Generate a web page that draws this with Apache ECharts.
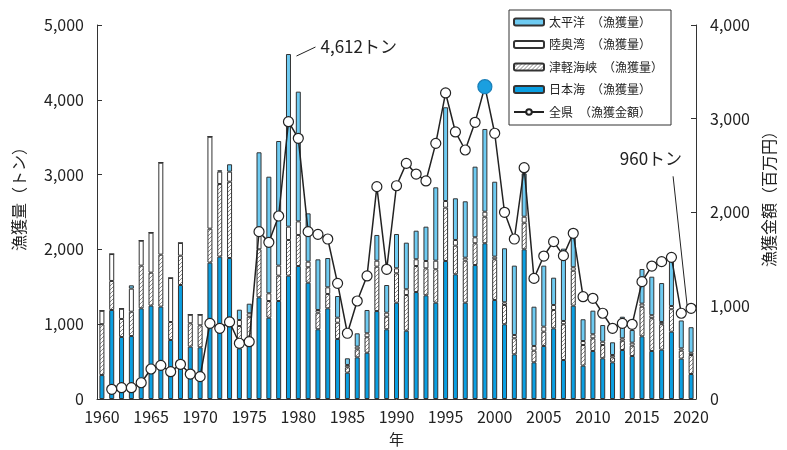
<!DOCTYPE html>
<html>
<head>
<meta charset="utf-8">
<script src="https://cdn.jsdelivr.net/npm/echarts@6/dist/echarts.min.js"></script>
<style>
    html, body { margin: 0; padding: 0; background: #fff; }
    #main { width: 787px; height: 450px; }
</style>
</head>
<body>
<div id="main"></div>
<script>
    // 年
    var years = [];
    for (var y = 1960; y <= 2020; y++) years.push(String(y));

    // 漁獲量（トン）
    var japanSea = [320, 1190, 829, 842, 1212, 1248, 1235, 789, 1524, 700,
        691, 1823, 1903, 1885, 677, 722, 1359, 1087, 1310, 1649,
        1778, 1555, 932, 1212, 802, 352, 557, 619, 1176, 932,
        1288, 913, 1430, 1386, 1288, 1845, 1667, 1288, 1791, 2082,
        1324, 999, 597, 2001, 490, 709, 945, 521, 1248, 446,
        642, 544, 490, 655, 575, 838, 642, 660, 900, 540,
        334];
    var tsugaru = [680, 388, 241, 325, 571, 441, 695, 240, 392, 312,
        294, 454, 971, 1020, 299, 378, 642, 223, 339, 477,
        415, 206, 222, 192, 218, 72, 107, 206, 593, 168,
        392, 477, 348, 361, 446, 713, 383, 561, 291, 355,
        544, 258, 214, 356, 156, 191, 245, 478, 467, 276,
        169, 178, 67, 124, 138, 396, 438, 340, 300, 106,
        254];
    var mutsu = [180, 360, 137, 308, 334, 535, 1230, 589, 170, 115,
        142, 1230, 166, 134, 80, 46, 178, 103, 134, 178,
        182, 75, 36, 89, 67, 31, 36, 53, 80, 54,
        67, 77, 90, 98, 115, 89, 76, 40, 80, 67,
        35, 36, 45, 80, 63, 67, 67, 44, 46, 53,
        54, 44, 31, 32, 40, 41, 40, 30, 43, 31,
        31];
    var pacific = [0, 0, 0, 45, 0, 0, 0, 0, 0, 0,
        0, 0, 17, 99, 138, 128, 1119, 1559, 1666, 2308,
        1734, 646, 677, 392, 290, 89, 178, 312, 344, 370,
        459, 623, 382, 459, 981, 1253, 557, 754, 944, 1106,
        1002, 722, 927, 580, 525, 816, 365, 967, 454, 291,
        316, 223, 170, 289, 169, 463, 515, 520, 615, 373,
        341];

    // 漁獲金額（百万円）
    var amount = ['-', 104, 121, 121, 174, 321, 360, 292, 371, 267,
        239, 809, 756, 824, 596, 613, 1790, 1676, 1957, 2966,
        2788, 1790, 1761, 1711, 1237, 703, 1048, 1316, 2271, 1387,
        2281, 2520, 2406, 2332, 2734, 3273, 2856, 2663, 2959, 3340,
        2842, 1997, 1711, 2474, 1290, 1529, 1683, 1533, 1772, 1094,
        1077, 917, 756, 809, 799, 1255, 1422, 1469, 1515, 917,
        970];

    var leftTicks = [0, 1000, 2000, 3000, 4000, 5000];
    var rightTicks = [0, 1000, 2000, 3000, 4000];

    var font = '"Noto Sans CJK JP", "Noto Sans", sans-serif';
    var ink = '#333';

    // 斜線パターン
    function makeHatch() {
        var c = document.createElement('canvas');
        c.width = 4; c.height = 4;
        var ctx = c.getContext('2d');
        ctx.fillStyle = '#fff';
        ctx.fillRect(0, 0, 4, 4);
        ctx.strokeStyle = '#8a8a8a';
        ctx.lineWidth = 1;
        ctx.beginPath();
        ctx.moveTo(-1, 5); ctx.lineTo(5, -1);
        ctx.stroke();
        return c;
    }

    function fmt(v) {
        return String(v).replace(/\B(?=(\d{3})+(?!\d))/g, ',');
    }

    var amountData = [];
    for (var i = 0; i < amount.length; i++) {
        if (years[i] === '1999') {
            amountData.push({ value: amount[i], symbolSize: 14, itemStyle: { color: '#1a9fe0', borderColor: '#1a7fb8' } });
        } else {
            amountData.push(amount[i]);
        }
    }

    function barSeries(name, data, color) {
        return {
            name: name,
            type: 'bar',
            stack: 'catch',
            barWidth: 5,
            data: data,
            itemStyle: { color: color, borderColor: ink, borderWidth: 1 }
        };
    }

    var chart = echarts.init(document.getElementById('main'));
    var option = {
        animation: false,
        textStyle: { fontFamily: font },
        grid: { left: 97, right: 91, top: 25, bottom: 51, outerBoundsMode: 'none', containLabel: false },
        legend: {
            orient: 'vertical',
            left: 509,
            top: 10,
            backgroundColor: '#fff',
            borderColor: ink,
            borderWidth: 1,
            padding: [6, 8, 7, 4],
            itemWidth: 30,
            itemHeight: 7,
            itemGap: 10.5,
            textStyle: { fontSize: 12, color: '#222', fontFamily: font },
            data: ['太平洋　（漁獲量）', '陸奥湾　（漁獲量）', '津軽海峡　（漁獲量）', '日本海　（漁獲量）', '全県　（漁獲金額）']
        },
        xAxis: {
            type: 'category',
            data: years,
            name: '年',
            nameLocation: 'middle',
            nameGap: 33,
            nameTextStyle: { fontSize: 15, color: '#222' },
            axisLine: { lineStyle: { color: ink, width: 1 } },
            axisTick: { inside: true, length: 3, interval: 0, lineStyle: { color: '#666' } },
            axisLabel: { interval: 4, fontSize: 16, color: '#222', margin: 10 }
        },
        yAxis: [{
            type: 'value',
            min: 0,
            max: 5000,
            interval: 1000,
            name: '漁獲量（トン）',
            nameLocation: 'middle',
            nameRotate: 90,
            nameGap: 70,
            nameTextStyle: { fontSize: 16, color: '#222', padding: [0, 0, 0, 34] },
            axisLine: { show: true, lineStyle: { color: ink } },
            axisTick: { show: true, inside: true, length: 5, lineStyle: { color: ink } },
            axisLabel: { fontSize: 16, color: '#222', margin: 13, formatter: function (v) { return leftTicks.indexOf(v) >= 0 ? fmt(v) : ''; } },
            splitLine: { show: false }
        }, {
            type: 'value',
            min: 0,
            max: 4000,
            interval: 1000,
            position: 'right',
            name: '漁獲金額（百万円）',
            nameLocation: 'middle',
            nameRotate: 90,
            nameGap: 40,
            nameTextStyle: { fontSize: 16, color: '#222', padding: [0, 0, 0, 34] },
            axisLine: { show: true, lineStyle: { color: ink } },
            axisTick: { show: true, inside: true, length: 5, lineStyle: { color: ink } },
            axisLabel: { fontSize: 16, color: '#222', margin: 14, formatter: function (v) { return rightTicks.indexOf(v) >= 0 ? fmt(v) : ''; } },
            splitLine: { show: false }
        }],
        series: [
            barSeries('日本海　（漁獲量）', japanSea, '#0a9fe2'),
            barSeries('津軽海峡　（漁獲量）', tsugaru, { image: makeHatch(), repeat: 'repeat' }),
            barSeries('陸奥湾　（漁獲量）', mutsu, '#ffffff'),
            barSeries('太平洋　（漁獲量）', pacific, '#6ecbf2'),
            {
                name: '全県　（漁獲金額）',
                type: 'line',
                yAxisIndex: 1,
                data: amountData,
                z: 5,
                symbol: 'circle',
                symbolSize: 10,
                showSymbol: true,
                showAllSymbol: true,
                lineStyle: { color: '#222', width: 1.5 },
                itemStyle: { color: '#fff', borderColor: '#222', borderWidth: 1.2 }
            }
        ]
    };
    chart.setOption(option);

    // 注記
    var peakIdx = 19, lastIdx = years.length - 1;
    var peakTotal = japanSea[peakIdx] + tsugaru[peakIdx] + mutsu[peakIdx] + pacific[peakIdx];
    var lastTotal = japanSea[lastIdx] + tsugaru[lastIdx] + mutsu[lastIdx] + pacific[lastIdx];
    var p1 = chart.convertToPixel({ xAxisIndex: 0, yAxisIndex: 0 }, [years[peakIdx], peakTotal]);
    var p2 = chart.convertToPixel({ xAxisIndex: 0, yAxisIndex: 1 }, [years[lastIdx], amount[lastIdx]]);
    chart.setOption({
        graphic: [
            { type: 'line', shape: { x1: p1[0] + 8, y1: p1[1] + 2, x2: p1[0] + 27, y2: p1[1] - 7 }, style: { stroke: '#222', lineWidth: 1 } },
            { type: 'text', x: p1[0] + 32, y: p1[1] - 7, style: { text: fmt(peakTotal) + 'トン', font: '17px ' + font, fill: '#222', textVerticalAlign: 'middle' } },
            { type: 'line', shape: { x1: p2[0] - 18, y1: p2[1] - 132, x2: p2[0] - 4, y2: p2[1] - 3 }, style: { stroke: '#222', lineWidth: 1 } },
            { type: 'text', x: p2[0] - 9, y: p2[1] - 150, style: { text: lastTotal + 'トン', font: '17px ' + font, fill: '#222', textAlign: 'right', textVerticalAlign: 'middle' } }
        ]
    });
</script>
</body>
</html>
